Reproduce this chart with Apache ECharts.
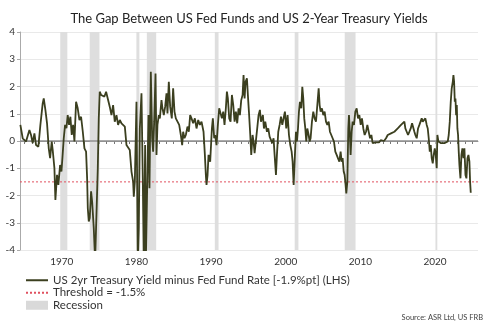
<!DOCTYPE html>
<html>
<head>
<meta charset="utf-8">
<script src="https://cdn.jsdelivr.net/npm/echarts@6/dist/echarts.min.js"></script>
<style>
  html, body { margin: 0; padding: 0; background: #fff; }
  #chart { width: 498px; height: 332px; }
</style>
</head>
<body>
<div id="chart"></div>
<script>
// US 2-year Treasury yield minus effective Fed funds rate (percentage points)
const years = [
  1964.46, 1964.77, 1965.22, 1965.67, 1965.89, 1966.11, 1966.34, 1966.56, 1966.87, 1967.14,
  1967.45, 1967.59, 1967.81, 1968.03, 1968.26, 1968.44, 1968.66, 1968.79, 1969.02, 1969.15,
  1969.37, 1969.55, 1969.78, 1969.96, 1970.09, 1970.27, 1970.45, 1970.63, 1970.80, 1970.98,
  1971.16, 1971.34, 1971.52, 1971.70, 1971.92, 1972.14, 1972.37, 1972.59, 1972.82, 1973.04,
  1973.26, 1973.40, 1973.49, 1973.62, 1973.75, 1973.93, 1974.07, 1974.29, 1974.47, 1974.65,
  1974.83, 1974.96, 1975.09, 1975.27, 1975.50, 1975.72, 1975.94, 1976.17,
  1976.43, 1976.66, 1976.88, 1977.10, 1977.33, 1977.55, 1977.77, 1978.00, 1978.22, 1978.45,
  1978.67, 1978.89, 1979.11, 1979.34, 1979.56, 1979.65, 1979.79, 1980.01, 1980.19, 1980.32,
  1980.46, 1980.68, 1980.86, 1980.99, 1981.17, 1981.26, 1981.44, 1981.62, 1981.75, 1981.93,
  1982.11, 1982.24, 1982.38, 1982.56, 1982.69, 1982.82, 1983.00, 1983.14, 1983.36, 1983.49,
  1983.67, 1983.85, 1984.03, 1984.16, 1984.34, 1984.52, 1984.74, 1984.92, 1985.10, 1985.28,
  1985.50, 1985.73, 1985.95, 1986.13, 1986.26, 1986.44, 1986.62, 1986.84, 1987.02, 1987.20,
  1987.38, 1987.60, 1987.83, 1988.05, 1988.28, 1988.50, 1988.72,
  1988.99, 1989.17, 1989.30, 1989.39, 1989.53, 1989.66, 1989.88, 1990.11, 1990.24, 1990.42,
  1990.55, 1990.73, 1990.91, 1991.09, 1991.27, 1991.45, 1991.63, 1991.80, 1991.98, 1992.12,
  1992.25, 1992.43, 1992.61, 1992.79, 1992.97, 1993.15, 1993.32, 1993.50, 1993.68, 1993.86,
  1994.04, 1994.22, 1994.35, 1994.49, 1994.62, 1994.80, 1994.93, 1995.07, 1995.25, 1995.38,
  1995.56, 1995.69, 1995.83, 1996.01, 1996.18, 1996.36, 1996.54, 1996.68, 1996.81, 1996.94,
  1997.08, 1997.26, 1997.48, 1997.66, 1997.84, 1998.02, 1998.19, 1998.37, 1998.51, 1998.69,
  1998.82, 1999.00, 1999.18, 1999.36, 1999.54, 1999.71, 1999.89, 2000.07, 2000.25, 2000.43,
  2000.61, 2000.79, 2000.92, 2001.06, 2001.23,
  2001.37, 2001.50, 2001.64, 2001.77, 2001.90, 2002.08, 2002.22, 2002.35, 2002.48, 2002.62,
  2002.75, 2002.89, 2003.07, 2003.20, 2003.33, 2003.51, 2003.69, 2003.87, 2004.05, 2004.23,
  2004.41, 2004.54, 2004.67, 2004.85, 2005.03, 2005.21, 2005.39, 2005.57, 2005.75, 2005.92,
  2006.10, 2006.28, 2006.46, 2006.64, 2006.82, 2006.99, 2007.18, 2007.35, 2007.49, 2007.62,
  2007.76, 2007.89, 2008.02, 2008.11, 2008.25, 2008.38, 2008.47, 2008.56, 2008.69, 2008.83,
  2008.96, 2009.14, 2009.32, 2009.50, 2009.68, 2009.86, 2010.04, 2010.21, 2010.39, 2010.57,
  2010.75, 2010.93, 2011.11, 2011.29, 2011.47, 2011.64, 2011.82, 2012.05, 2012.27, 2012.49,
  2012.72, 2012.94, 2013.16, 2013.39,
  2013.43, 2013.66, 2013.88, 2014.10, 2014.33, 2014.55, 2014.77, 2015.00, 2015.22, 2015.44,
  2015.67, 2015.89, 2016.02, 2016.20, 2016.38, 2016.56, 2016.74, 2016.92, 2017.10, 2017.23,
  2017.36, 2017.54, 2017.72, 2017.90, 2018.08, 2018.21, 2018.35, 2018.53, 2018.70, 2018.88,
  2019.02, 2019.15, 2019.29, 2019.42, 2019.55, 2019.69, 2019.82, 2019.96, 2020.09, 2020.22,
  2020.31, 2020.45, 2020.58, 2020.80, 2021.03, 2021.25, 2021.48, 2021.70, 2021.83, 2021.97,
  2022.10, 2022.23, 2022.37, 2022.46, 2022.55, 2022.64, 2022.73, 2022.82, 2022.91, 2022.99,
  2023.08, 2023.17, 2023.26, 2023.40, 2023.53, 2023.66, 2023.80, 2023.93, 2024.07, 2024.20,
  2024.34, 2024.47, 2024.60, 2024.69, 2024.78
];
const spread = [
  0.59, 0.10, -0.02, 0.40, 0.22, -0.08, 0.28, -0.15, -0.21, 0.59,
  1.38, 1.56, 1.14, 0.65, -0.27, -0.63, -0.02, -0.33, -1.00, -2.16,
  -1.24, -1.61, -0.88, -1.12, -0.63, 0.10, 0.59, 0.47, 0.95, 0.59,
  0.89, 0.22, 0.59, -0.02, 1.44, 1.20, 0.77, 0.89, 0.34, -0.27,
  -0.39, -1.37, -2.47, -2.95, -2.83, -1.85, -2.22, -3.20, -4.40, -2.71,
  -1.00, 0.83, 1.81, 1.69, 1.75, 1.63, 1.81, 1.75,
  1.26, 0.95, 1.32, 0.71, 0.95, 0.59, 0.77, 0.65, 0.71, 0.53,
  -0.15, -0.15, -0.33, -1.12, -1.49, -2.04, -1.49, 1.44, -4.50, -3.20,
  0.46, 1.75, -1.49, -4.50, -0.15, -4.50, -1.73, 0.95, -1.73, 2.54,
  0.10, -0.39, 0.71, 2.48, -0.51, 0.59, 0.95, 0.83, 1.50, 1.20,
  0.95, 1.26, 1.75, 1.01, 2.17, 1.26, 0.83, 1.93, 1.08, 0.83,
  0.89, 0.59, 0.22, -0.15, 0.34, 0.10, 0.22, 0.53, 0.34, 0.95,
  0.83, 0.65, 0.83, 0.46, 0.77, 0.59, 0.71,
  0.34, -0.51, -1.25, -1.61, -1.25, -0.51, -0.76, 0.46, 0.83, 0.10,
  0.22, -0.15, 0.59, 1.20, 1.26, 0.83, 1.08, 0.59, 1.20, 1.81,
  1.56, 0.83, 0.71, 1.69, 1.32, 0.71, 1.08, 0.65, 1.20, 0.95,
  1.50, 1.69, 2.42, 1.56, 2.17, 2.30, 1.69, 1.08, 0.22, -0.51,
  0.22, -0.02, -0.45, -0.51, 0.46, 0.95, 1.14, 0.71, 0.83, 0.95,
  0.46, 0.71, 0.34, 0.46, 0.16, 0.10, -0.08, 0.10, -0.51, -1.25,
  -0.51, 0.34, 0.59, 0.89, 0.59, 0.83, 1.08, 0.46, 0.95, 0.22,
  -0.15, -0.39, -0.76, -1.61, -0.51,
  0.34, -0.02, 0.46, 1.08, 1.44, 1.20, 1.99, 1.56, 0.83, 0.46,
  -0.02, 0.46, 0.22, -0.02, 0.10, 0.71, 1.08, 0.83, 0.71, 1.32,
  1.93, 1.32, 1.08, 1.20, 0.95, 1.08, 0.71, 0.59, 0.71, 0.34,
  0.22, 0.10, -0.02, -0.39, -0.51, -0.63, -0.76, -0.39, -0.76, -0.63,
  -1.12, -1.25, -1.61, -1.92, -1.49, 0.46, 0.95, 0.46, -0.51, 0.34,
  0.71, 0.59, 1.08, 1.20, 0.83, 0.95, 0.59, 0.83, 0.46, 0.22,
  0.34, 0.59, 0.34, 0.10, 0.22, -0.08, -0.02, -0.05, 0.00, -0.05,
  0.03, -0.02, 0.00, 0.03,
  0.10, 0.22, 0.16, 0.28, 0.22, 0.34, 0.40, 0.46, 0.46, 0.59,
  0.53, 0.71, 0.46, 0.34, 0.22, 0.34, 0.46, 0.65, 0.59, 0.34,
  0.22, 0.10, 0.46, 0.59, 0.59, 0.83, 0.71, 0.77, 0.83, 0.59,
  0.46, 0.10, -0.39, -0.15, -0.63, -0.82, -0.51, -0.27, -0.51, -1.00,
  0.22, -0.02, -0.08, -0.08, -0.12, -0.08, -0.08, -0.02, 0.22, 0.71,
  1.44, 1.93, 2.17, 2.42, 2.17, 1.44, 1.56, 0.95, 1.32, 0.46,
  0.22, -0.39, -0.88, -1.37, -0.51, -0.27, -0.63, -0.27, -1.25, -1.37,
  -0.63, -0.51, -0.76, -1.49, -1.90
];

// Warning threshold for the spread
const threshold = -1.5;

// NBER recession periods (start, end) in decimal years
const recessionStart = [1969.8, 1973.75, 1980.0, 1981.4, 1990.5, 2001.2, 2007.9, 2020.05];
const recessionEnd   = [1970.75, 1975.05, 1980.4, 1982.65, 1991.0, 2001.7, 2009.35, 2020.3];

// Axis ticks
const xLabelYears = [1970, 1980, 1990, 2000, 2010, 2020];
const xTickYears = [];
for (let y = 1965; y <= 2025; y++) xTickYears.push(y);

const X_MIN = 1964.41, X_MAX = 2025.75;

const SERIES_NAME = 'US 2yr Treasury Yield minus Fed Fund Rate [-1.9%pt] (LHS)';
const THRESHOLD_NAME = 'Threshold = -1.5%';
const RECESSION_NAME = 'Recession';

const lineData = years.map((y, i) => [y, spread[i]]);
const recessionAreas = recessionStart.map((s, i) => [{ xAxis: s }, { xAxis: recessionEnd[i] }]);

const FONT = 'Lato';
const chart = echarts.init(document.getElementById('chart'), null, { renderer: 'canvas' });

chart.setOption({
  animation: false,
  backgroundColor: '#ffffff',
  textStyle: { fontFamily: FONT },
  title: {
    text: 'The Gap Between US Fed Funds and US 2-Year Treasury Yields',
    left: 'center',
    top: 7,
    textStyle: { fontFamily: FONT, fontSize: 13, fontWeight: 'normal', color: '#222' }
  },
  grid: { left: 20, right: 20, top: 32, bottom: 82, containLabel: false },
  legend: {
    orient: 'vertical',
    left: 25,
    top: 274,
    padding: 0,
    itemWidth: 22,
    itemHeight: 9,
    itemGap: 0,
    textStyle: { fontFamily: FONT, fontSize: 11.5, lineHeight: 12.5, color: '#333' },
    data: [
      { name: SERIES_NAME, itemStyle: { opacity: 0 } },
      { name: THRESHOLD_NAME, itemStyle: { opacity: 0 } },
      { name: RECESSION_NAME, icon: 'rect', itemStyle: { color: '#d9d9d9' } }
    ]
  },
  xAxis: {
    type: 'value',
    min: X_MIN,
    max: X_MAX,
    axisLine: { show: true, lineStyle: { color: '#999', width: 1 } },
    axisTick: { show: true, customValues: xTickYears, length: 3, lineStyle: { color: '#777' } },
    axisLabel: {
      customValues: xLabelYears,
      color: '#333',
      fontSize: 10,
      margin: 7,
      fontFamily: FONT,
      formatter: (v) => String(Math.round(v))
    },
    splitLine: { show: false }
  },
  yAxis: {
    type: 'value',
    min: -4,
    max: 4,
    interval: 1,
    axisLine: { show: true, lineStyle: { color: '#aaa', width: 1 } },
    axisTick: { show: true, length: 3, lineStyle: { color: '#aaa' } },
    axisLabel: { color: '#333', fontSize: 10, margin: 5, fontFamily: FONT },
    splitLine: { show: true, lineStyle: { color: '#e9e9e9', width: 1 } }
  },
  series: [
    {
      name: RECESSION_NAME,
      type: 'bar',
      data: [],
      itemStyle: { color: '#d9d9d9' },
      markArea: {
        silent: true,
        itemStyle: { color: '#dedede' },
        data: recessionAreas
      }
    },
    {
      name: THRESHOLD_NAME,
      type: 'line',
      data: [[X_MIN, threshold], [X_MAX, threshold]],
      symbol: 'none',
      lineStyle: { color: '#e0505f', width: 1, type: [2, 2] },
      itemStyle: { color: '#e0505f' },
      silent: true,
      z: 3,
      markLine: {
        silent: true,
        symbol: 'none',
        label: { show: false },
        lineStyle: { color: '#8f8f8f', width: 1.5, type: 'solid' },
        data: [{ yAxis: 0 }]
      }
    },
    {
      name: SERIES_NAME,
      type: 'line',
      data: lineData,
      symbol: 'none',
      clip: true,
      lineStyle: { color: '#3b3f1f', width: 1.8 },
      itemStyle: { color: '#3b3f1f' },
      z: 5
    }
  ],
  graphic: [
    {
      type: 'text',
      right: 15,
      top: 314,
      style: { text: 'Source: ASR Ltd, US FRB', fontSize: 7.5, fontFamily: FONT, fill: '#444' }
    }
  ]
});
</script>
</body>
</html>
